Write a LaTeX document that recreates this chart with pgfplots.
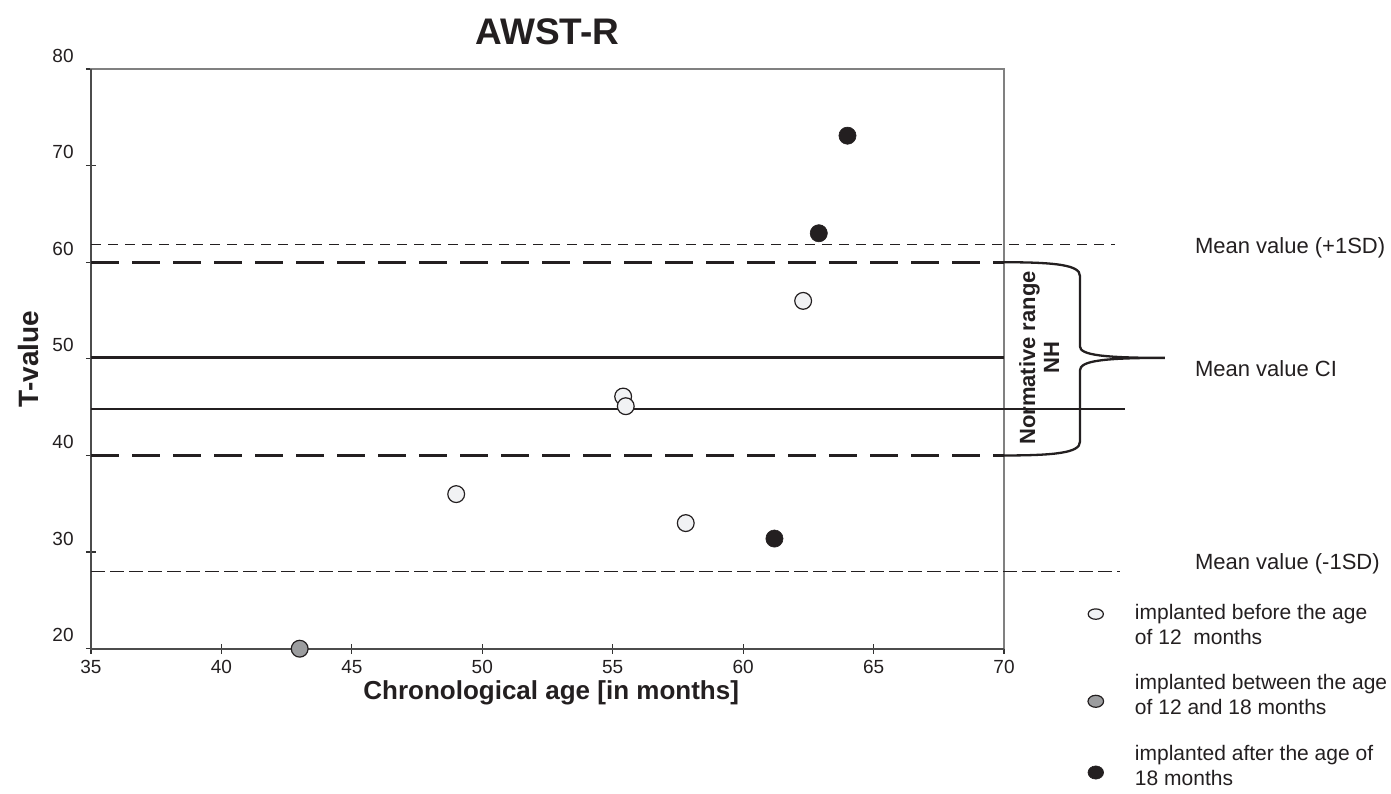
\documentclass[border=0pt]{standalone}
\usepackage{pgfplots}
\pgfplotsset{compat=1.18}
\usepackage{fontspec}
\setmainfont{Liberation Sans}
\definecolor{ink}{HTML}{231F20}
\definecolor{ptwhite}{HTML}{F1F2F4}
\definecolor{ptgray}{HTML}{9C9D9F}

\begin{document}
\begin{tikzpicture}
\begin{axis}[
  width=456.5pt, height=289.85pt, scale only axis,
  xmin=35, xmax=70, ymin=20, ymax=80,
  xtick={35,40,...,70}, ytick={20,30,...,80},
  clip=false,
  axis line style={draw=black!50, line width=0.6pt},
  tick style={draw=black!80, line width=0.6pt},
  tick align=center, major tick length=5pt,
  tick pos=left,
  /pgf/number format/assume math mode=true,
  ticklabel style={font=\fontsize{9.5}{11}\selectfont, text=ink},
  yticklabel style={anchor=base east, inner sep=0pt, xshift=-6pt, yshift=3.5pt},
  xticklabel style={anchor=north, inner sep=0pt, yshift=-3.25pt},
  title={\bfseries AWST-R},
  title style={font=\fontsize{18.5}{21}\selectfont, text=ink, at={(0.5,1.043)}, anchor=center},
  xlabel={\bfseries Chronological age [in months]},
  xlabel style={font=\fontsize{13}{15}\selectfont, text=ink, at={(0.504,-0.076)}, anchor=center},
  ylabel={\bfseries T-value},
  ylabel style={font=\fontsize{14}{16}\selectfont, text=ink, at={(-0.069,0.5)}, anchor=center},
  legend style={at={(1.0909,0.077)}, anchor=north west, draw=none, fill=none,
    inner sep=0pt, row sep=13.5pt, font=\fontsize{10.5}{12.5}\selectfont,
    nodes={inner sep=0pt, align=left, text=ink}},
  legend cell align=left,
]

% darker left and bottom axis lines
\draw[black!70, line width=0.8pt] (rel axis cs:0,1) -- (rel axis cs:0,0) -- (rel axis cs:1,0);

% reference lines
\addplot[forget plot, ink, line width=0.6pt, dash pattern=on 5pt off 3.5pt] coordinates {(35,61.8) (74.25,61.8)};
\addplot[forget plot, ink, line width=1.6pt, dash pattern=on 14pt off 6.5pt] coordinates {(35,60.0) (70,60.0)};
\addplot[forget plot, ink, line width=1.5pt] coordinates {(35,50.1) (70,50.1)};
\addplot[forget plot, ink, line width=0.8pt] coordinates {(35,44.8) (74.65,44.8)};
\addplot[forget plot, ink, line width=1.6pt, dash pattern=on 14pt off 6.5pt] coordinates {(35,40.0) (70,40.0)};
\addplot[forget plot, ink, line width=0.6pt, dash pattern=on 7pt off 2.5pt] coordinates {(35,28.0) (74.45,28.0)};

% brace and annotations
\draw[ink, line width=1.15pt] (axis cs:70,60) .. controls (axis cs:72,60) and (axis cs:72.91,59.7) .. (axis cs:72.91,58.6)
  -- (axis cs:72.91,51.3) .. controls (axis cs:72.91,50.4) and (axis cs:73.8,50.1) .. (axis cs:76.17,50.1)
  .. controls (axis cs:73.8,50.1) and (axis cs:72.91,49.8) .. (axis cs:72.91,48.8)
  -- (axis cs:72.91,41.4) .. controls (axis cs:72.91,40.3) and (axis cs:72,40) .. (axis cs:70,40);
\node[rotate=90, align=center, font=\fontsize{11}{12}\selectfont\bfseries, text=ink, inner sep=0pt]
  at (axis cs:71.35,50.1) {Normative range\\NH};
\node[anchor=west, inner sep=0pt, font=\fontsize{11}{13}\selectfont, text=ink] at (axis cs:77.31,61.5) {Mean value (+1SD)};
\node[anchor=west, inner sep=0pt, font=\fontsize{11}{13}\selectfont, text=ink] at (axis cs:77.31,48.95) {Mean value CI};
\node[anchor=west, inner sep=0pt, font=\fontsize{11}{13}\selectfont, text=ink] at (axis cs:77.31,28.8) {Mean value (-1SD)};

% data
\addplot[only marks, mark=*, mark size=4.2pt, mark options={fill=ptwhite, draw=ink, line width=0.6pt},
  legend image code/.code={\draw[fill=ptwhite, draw=ink, line width=0.6pt] (3.9pt,6pt) ellipse (3.8pt and 2.6pt); \path[draw=none] (0pt,0pt) -- (23.5pt,0pt);}]
  coordinates {(49.0,36.0) (55.4,46.1) (55.5,45.1) (57.8,33.0) (62.3,56.0)};
\addlegendentry{implanted before the age\\of 12\ \ months}
\addplot[only marks, mark=*, mark size=4.2pt, mark options={fill=ptgray, draw=ink, line width=0.6pt},
  legend image code/.code={\draw[fill=ptgray, draw=ink, line width=0.6pt] (3.9pt,-2.5pt) ellipse (3.9pt and 3pt); \path[draw=none] (0pt,0pt) -- (23.5pt,0pt);}]
  coordinates {(43.0,20.0)};
\addlegendentry{implanted between the age\\of 12 and 18 months}
\addplot[only marks, mark=*, mark size=4.3pt, mark options={fill=ink, draw=ink, line width=0.3pt},
  legend image code/.code={\draw[fill=ink, draw=ink, line width=0.3pt] (3.9pt,-3pt) ellipse (3.9pt and 3.3pt); \path[draw=none] (0pt,0pt) -- (23.5pt,0pt);}]
  coordinates {(61.2,31.4) (62.9,63.0) (64.0,73.1)};
\addlegendentry{implanted after the age of\\18 months}
\end{axis}
\pgfresetboundingbox
\useasboundingbox (-45.5pt,-72.15pt) rectangle (650pt,324.35pt);
\end{tikzpicture}
\end{document}
